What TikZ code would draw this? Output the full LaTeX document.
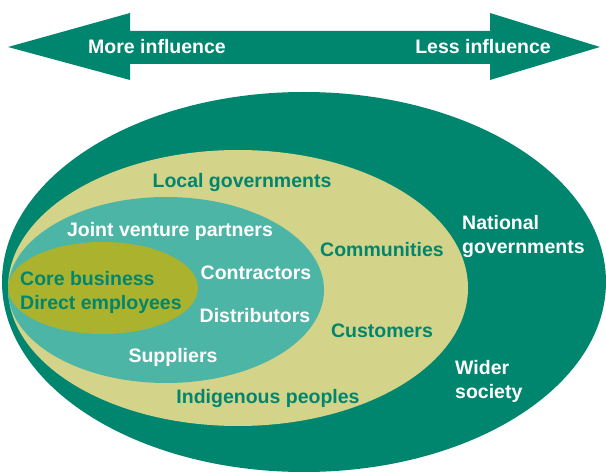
\documentclass[tikz,border=0pt]{standalone}
\usepackage{fontspec}
\setmainfont{Liberation Sans}
\definecolor{dkgreen}{RGB}{0,134,110}
\definecolor{beige}{RGB}{211,211,137}
\definecolor{tealc}{RGB}{77,181,166}
\definecolor{olive}{RGB}{170,178,46}
\begin{document}
\begin{tikzpicture}[x=1pt,y=-1pt,
  lbl/.style={inner sep=0pt, font=\bfseries\fontsize{19.5}{24}\selectfont},
  wlbl/.style={lbl, text=white},
  glbl/.style={lbl, text=dkgreen},
  lft/.style={align=left, anchor=west}]
\useasboundingbox (0,0) rectangle (606,473);
% arrow
\fill[dkgreen] (8,47) -- (130,13) -- (130,31) -- (490,31) -- (490,13) -- (600,47)
  -- (490,80) -- (490,64) -- (130,64) -- (130,80) -- cycle;
\node[wlbl] (more) at (157,47) {More influence};
\node[wlbl] (less) at (483,47) {Less influence};
% ellipses
\fill[dkgreen] (304,282) ellipse [x radius=302, y radius=190];
\fill[beige] (238,288) ellipse [x radius=230, y radius=138];
\fill[tealc] (166,290) ellipse [x radius=158, y radius=93];
\fill[olive] (103,288) ellipse [x radius=95, y radius=46];
% labels
\node[glbl] (local) at (242,183) {Local governments};
\node[wlbl] (jv) at (170,231) {Joint venture partners};
\node[glbl] (comm) at (382,250) {Communities};
\node[wlbl, lft] (natl) at (462,237) {National\\governments};
\node[wlbl] (contr) at (256,273) {Contractors};
\node[glbl, lft] (core) at (20,292) {Core business\\Direct employees};
\node[wlbl] (distr) at (255,316) {Distributors};
\node[glbl] (cust) at (382,331) {Customers};
\node[wlbl, lft] (wider) at (455,381) {Wider\\society};
\node[wlbl] (supp) at (173,357) {Suppliers};
\node[glbl] (indig) at (268,399) {Indigenous peoples};
\end{tikzpicture}
\end{document}
